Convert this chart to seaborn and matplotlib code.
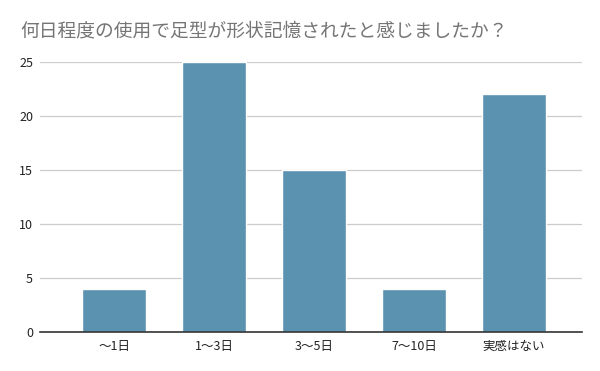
import matplotlib
matplotlib.use("Agg")
import matplotlib.pyplot as plt
import seaborn as sns
import pandas as pd

categories = ["〜1日", "1〜3日", "3〜5日", "7〜10日", "実感はない"]
values = [4, 25, 15, 4, 22]
yticks = [0, 5, 10, 15, 20, 25]
title = "何日程度の使用で足型が形状記憶されたと感じましたか？"

sns.set_theme(style="white")
plt.rcParams['font.family'] = ['Noto Sans CJK JP', 'DejaVu Sans']

df = pd.DataFrame({"cat": categories, "val": values})
fig = plt.figure(figsize=(6, 3.71), dpi=100)
ax = fig.add_axes([40/600, 1-332/371, 542/600, 270/371])
sns.barplot(data=df, x="cat", y="val", color="#5a92b0", width=0.64, ax=ax, saturation=1, zorder=3)
ax.set_xlim(-0.74, 4.68)
ax.set_ylim(0, 25)
ax.set_yticks(yticks)
ax.grid(axis="y", color="#cccccc", linewidth=0.9, zorder=0)
for s in ["top", "right", "left"]:
    ax.spines[s].set_visible(False)
ax.spines["bottom"].set_color("#333333")
ax.spines["bottom"].set_linewidth(1.2)
ax.spines["bottom"].set_zorder(4)
ax.set_xlabel("")
ax.set_ylabel("")
ax.tick_params(axis="both", length=0, labelsize=9, colors="#222222", pad=6)
ax.tick_params(axis="y", pad=5)
for lab in ax.get_yticklabels():
    lab.set_ha("right")
fig.text(20/600, 1-31/371, title, fontsize=13.5, color="#757575", va="center", ha="left")
fig.savefig("out.png", dpi=100)
